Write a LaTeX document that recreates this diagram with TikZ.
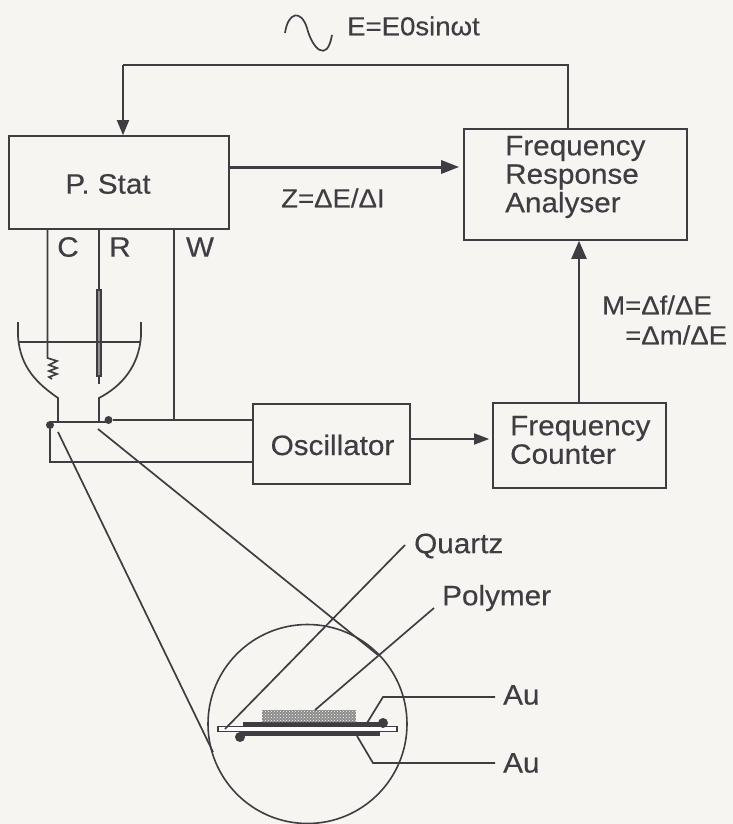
\documentclass[tikz,border=0pt]{standalone}
\usepackage{fontspec}
\setmainfont[FakeStretch=1.06,FakeBold=0.4]{Liberation Sans}
\usetikzlibrary{arrows.meta,patterns}
\definecolor{ink}{HTML}{3F3D42}
\definecolor{paper}{HTML}{F6F5F2}
\tikzset{
 wire/.style={draw=ink,line width=1.7pt},
 arrowline/.style={wire,-{Triangle[length=15pt,width=12pt]}},
 box/.style={draw=ink,line width=1.6pt,fill=none,inner sep=0pt},
 lab/.style={font=\fontsize{28}{28.5}\selectfont,text=ink,inner sep=0pt,align=left},
 labsmall/.style={font=\fontsize{26}{28}\selectfont,text=ink,inner sep=0pt,align=left},
 dot/.style={circle,fill=ink,inner sep=0pt,minimum size=#1}
}
\begin{document}
\begin{tikzpicture}[x=1pt,y=-1pt]
\useasboundingbox[fill=paper] (0,0) rectangle (733,824);
% boxes
\node[box,minimum width=220pt,minimum height=93pt] (pstat) at (119,182.5) {};
\node[box,minimum width=223pt,minimum height=111pt] (fra) at (575.5,184.5) {};
\node[box,minimum width=157pt,minimum height=80pt] (osc) at (331.5,444) {};
\node[box,minimum width=173pt,minimum height=85pt] (fc) at (579.5,445.5) {};
\node[lab,anchor=center] (pstatl) at (108,184) {P. Stat};
\node[lab,anchor=west] (fral) at (505,177) {Frequency\\Response\\Analyser};
\node[lab,anchor=center] (oscl) at (332.5,445) {Oscillator};
\node[lab,anchor=west] (fcl) at (510,440) {Frequency\\Counter};
\node[labsmall,anchor=west] (zl) at (281,198) {Z=ΔE/ΔI};
\node[labsmall,anchor=west] (ml) at (602,305) {M=Δf/ΔE};
\node[labsmall,anchor=west] (ml2) at (625,335) {=Δm/ΔE};
\node[labsmall,anchor=west] (el) at (347,26) {E=E0sinωt};
\node[lab] (cl) at (68,247) {C};
\node[lab] (rl) at (120,247) {R};
\node[lab] (wl) at (200,247) {W};
\node[lab,anchor=west] (ql) at (414,546) {Quartz};
\node[lab,anchor=west] (pl) at (442,598) {Polymer};
\node[lab,anchor=west] (a1) at (503,695) {Au};
\node[lab,anchor=west] (a2) at (503,763) {Au};
% sine
\draw[wire] (285,33) .. controls (288,12) and (301,9) .. (307,28) .. controls (312,48) and (327,64) .. (332,35);
% feedback
\coordinate (fbl) at (123,65); \coordinate (fbr) at (568,65);
\draw[wire] (fra.north -| fbr) -- (fbr) -- (fbl);
\draw[arrowline] (fbl) -- (fbl |- pstat.north);
\coordinate (za) at (pstat.east |- 0,167);
\draw[wire,line width=3pt,-{Triangle[length=18pt,width=13pt]},shorten >=4pt] (za) -- (za -| fra.west);
\coordinate (mb) at (579,0);
\draw[wire,line width=2.2pt,-{Triangle[length=18pt,width=15pt]}] (mb |- fc.north) -- (mb |- fra.south);
\draw[wire,-{Triangle[length=15pt,width=11pt]},shorten >=3pt] (osc.east |- 0,439) -- (fc.west |- 0,439);
% cell
\coordinate (cb) at (47.5,229); \coordinate (rb) at (99,229); \coordinate (wb) at (174,229);
\draw[wire] (cb) -- (47.5,358) -- (57,361) -- (49,365) -- (57,368) -- (49,371) -- (57,374) -- (49,377) -- (52,379);
\draw[wire] (rb) -- (99,290);
\draw[draw=ink,line width=1.8pt,fill=ink!55!paper] (97,290) rectangle (101,376);
\draw[wire] (99,376) -- (99,384);
\draw[wire] (18,322) -- (18,336) .. controls (20,368) and (38,384) .. (58,398) -- (58,421);
\draw[wire] (141,322) -- (141,336) .. controls (139,366) and (122,386) .. (99,398) -- (99,421);
\draw[wire,line width=1.3pt] (18,342) -- (141,342);
\draw[wire,line width=2.4pt] (50,422) -- (110,422);
\node[dot=8pt] (d1) at (50,425) {};
\node[dot=8pt] (d2) at (108.5,420) {};
\draw[wire] (d2) -- (osc.west |- d2);
\draw[wire] (wb) -- (174,420);
\draw[wire] (d1) -- (50,462) -- (osc.west |- 0,462);
% magnifier
\node[draw=ink,line width=1.6pt,circle,minimum size=199pt,inner sep=0pt] (lens) at (307.5,724) {};
\coordinate (ll) at (58,432); \coordinate (lr) at (98,429);
\coordinate (lt1) at (213,752); \coordinate (lt2) at (378,655);
\draw[wire] (ll) -- (lt1);
\draw[wire] (lr) -- (lt2);
% sample
\draw[draw=ink,line width=1.2pt,fill=white] (218,726.5) rectangle (397,731.5);
\draw[fill=ink,draw=none] (243,722) rectangle (385,726.5);
\draw[fill=ink,draw=none] (240,731.5) rectangle (380,736);
\fill[black!45] (262,710) rectangle (356,722);
\fill[pattern=crosshatch dots,pattern color=paper] (262,710) rectangle (356,722);
\node[dot=10pt] (a) at (383,723) {};
\node[dot=10pt] (b) at (240,737) {};
\coordinate (qa) at (225,729); \coordinate (qb) at (405,545);
\draw[wire] (qa) -- (qb);
\coordinate (pa) at (315,710); \coordinate (pb) at (434,608);
\draw[wire] (pa) -- (pb);
\coordinate (u1) at (367,723); \coordinate (u2) at (383,697); \coordinate (u3) at (495,697);
\draw[wire] (u1) -- (u2) -- (u3);
\coordinate (v1) at (357,736); \coordinate (v2) at (373,763); \coordinate (v3) at (495,763);
\draw[wire] (v1) -- (v2) -- (v3);
\end{tikzpicture}
\end{document}
